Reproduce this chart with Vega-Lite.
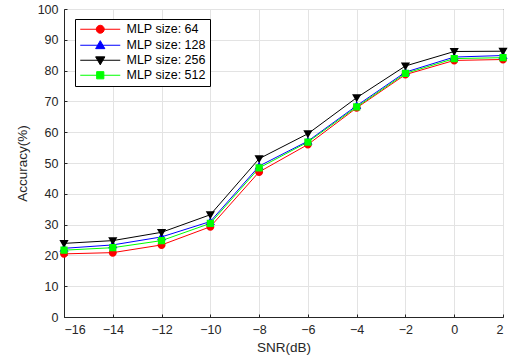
{
  "$schema": "https://vega.github.io/schema/vega-lite/v6.json",
  "width": 439,
  "height": 308,
  "autosize": {"type": "none"},
  "padding": {"left": 64, "top": 9, "right": 7, "bottom": 46},
  "background": "white",
  "config": {
    "view": {"stroke": "#262626", "strokeWidth": 1},
    "font": "Liberation Sans",
    "axis": {
      "domainColor": "#262626",
      "tickColor": "#262626",
      "labelColor": "#262626",
      "titleColor": "#262626",
      "gridColor": "#e3e3e3",
      "gridWidth": 1,
      "labelFont": "Liberation Sans",
      "titleFont": "Liberation Sans",
      "labelFontSize": 12.5,
      "titleFontSize": 13.5,
      "titleFontWeight": "normal",
      "tickSize": -3,
      "labelPadding": 9
    },
    "legend": {
      "orient": "none",
      "legendX": 11,
      "legendY": 10,
      "strokeColor": "#000000",
      "fillColor": "#ffffff",
      "padding": 4,
      "symbolOffset": 15,
      "labelOffset": 20,
      "labelFont": "Liberation Sans",
      "labelFontSize": 12.5,
      "labelColor": "#000000",
      "rowPadding": 2,
      "symbolSize": 64,
      "symbolStrokeWidth": 1,
      "title": null
    }
  },
  "data": {
    "values": [
      {"snr": -16, "acc": 20.5, "series": "MLP size: 64"},
      {"snr": -14, "acc": 20.9, "series": "MLP size: 64"},
      {"snr": -12, "acc": 23.4, "series": "MLP size: 64"},
      {"snr": -10, "acc": 29.3, "series": "MLP size: 64"},
      {"snr": -8, "acc": 47.1, "series": "MLP size: 64"},
      {"snr": -6, "acc": 56.0, "series": "MLP size: 64"},
      {"snr": -4, "acc": 67.9, "series": "MLP size: 64"},
      {"snr": -2, "acc": 78.7, "series": "MLP size: 64"},
      {"snr": 0, "acc": 83.3, "series": "MLP size: 64"},
      {"snr": 2, "acc": 83.6, "series": "MLP size: 64"},
      {"snr": -16, "acc": 22.3, "series": "MLP size: 128"},
      {"snr": -14, "acc": 23.4, "series": "MLP size: 128"},
      {"snr": -12, "acc": 26.0, "series": "MLP size: 128"},
      {"snr": -10, "acc": 31.0, "series": "MLP size: 128"},
      {"snr": -8, "acc": 49.0, "series": "MLP size: 128"},
      {"snr": -6, "acc": 57.1, "series": "MLP size: 128"},
      {"snr": -4, "acc": 68.6, "series": "MLP size: 128"},
      {"snr": -2, "acc": 79.5, "series": "MLP size: 128"},
      {"snr": 0, "acc": 84.4, "series": "MLP size: 128"},
      {"snr": 2, "acc": 84.9, "series": "MLP size: 128"},
      {"snr": -16, "acc": 23.9, "series": "MLP size: 256"},
      {"snr": -14, "acc": 24.8, "series": "MLP size: 256"},
      {"snr": -12, "acc": 27.5, "series": "MLP size: 256"},
      {"snr": -10, "acc": 33.2, "series": "MLP size: 256"},
      {"snr": -8, "acc": 51.4, "series": "MLP size: 256"},
      {"snr": -6, "acc": 59.5, "series": "MLP size: 256"},
      {"snr": -4, "acc": 71.2, "series": "MLP size: 256"},
      {"snr": -2, "acc": 81.5, "series": "MLP size: 256"},
      {"snr": 0, "acc": 86.2, "series": "MLP size: 256"},
      {"snr": 2, "acc": 86.3, "series": "MLP size: 256"},
      {"snr": -16, "acc": 21.7, "series": "MLP size: 512"},
      {"snr": -14, "acc": 22.5, "series": "MLP size: 512"},
      {"snr": -12, "acc": 24.8, "series": "MLP size: 512"},
      {"snr": -10, "acc": 30.4, "series": "MLP size: 512"},
      {"snr": -8, "acc": 48.4, "series": "MLP size: 512"},
      {"snr": -6, "acc": 56.8, "series": "MLP size: 512"},
      {"snr": -4, "acc": 68.2, "series": "MLP size: 512"},
      {"snr": -2, "acc": 79.1, "series": "MLP size: 512"},
      {"snr": 0, "acc": 83.9, "series": "MLP size: 512"},
      {"snr": 2, "acc": 84.2, "series": "MLP size: 512"}
    ]
  },
  "encoding": {
    "x": {
      "field": "snr",
      "type": "quantitative",
      "scale": {"domain": [-16, 2], "nice": false, "zero": false},
      "axis": {"values": [-16, -14, -12, -10, -8, -6, -4, -2, 0, 2], "title": "SNR(dB)", "titlePadding": 5}
    },
    "y": {
      "field": "acc",
      "type": "quantitative",
      "scale": {"domain": [0, 100], "nice": false},
      "axis": {"values": [0, 10, 20, 30, 40, 50, 60, 70, 80, 90, 100], "title": "Accuracy(%)", "titlePadding": 8}
    },
    "color": {
      "field": "series",
      "type": "nominal",
      "scale": {
        "domain": ["MLP size: 64", "MLP size: 128", "MLP size: 256", "MLP size: 512"],
        "range": ["#ff0000", "#0000ff", "#000000", "#00ff00"]
      },
      "legend": {
        "encode": {
          "symbols": {
            "update": {
              "stroke": {"scale": "color", "field": "value"},
              "strokeWidth": {"value": 1}
            }
          }
        }
      }
    }
  },
  "layer": [
    {
      "mark": {"type": "line", "strokeWidth": 1}
    },
    {
      "mark": {"type": "point", "filled": true, "opacity": 1, "size": 64},
      "encoding": {
        "shape": {
          "field": "series",
          "type": "nominal",
          "scale": {
            "domain": ["MLP size: 64", "MLP size: 128", "MLP size: 256", "MLP size: 512"],
            "range": [
              "M-5,0H5M1,0A1,1 0 1 1 -1,0A1,1 0 1 1 1,0Z",
              "M-5,0H5M0,-1.15L1.15,0.85L-1.15,0.85Z",
              "M-5,0H5M0,1.15L1.15,-0.85L-1.15,-0.85Z",
              "M-5,0H5M-0.9,-0.9H0.9V0.9H-0.9Z"
            ]
          }
        }
      }
    }
  ]
}
